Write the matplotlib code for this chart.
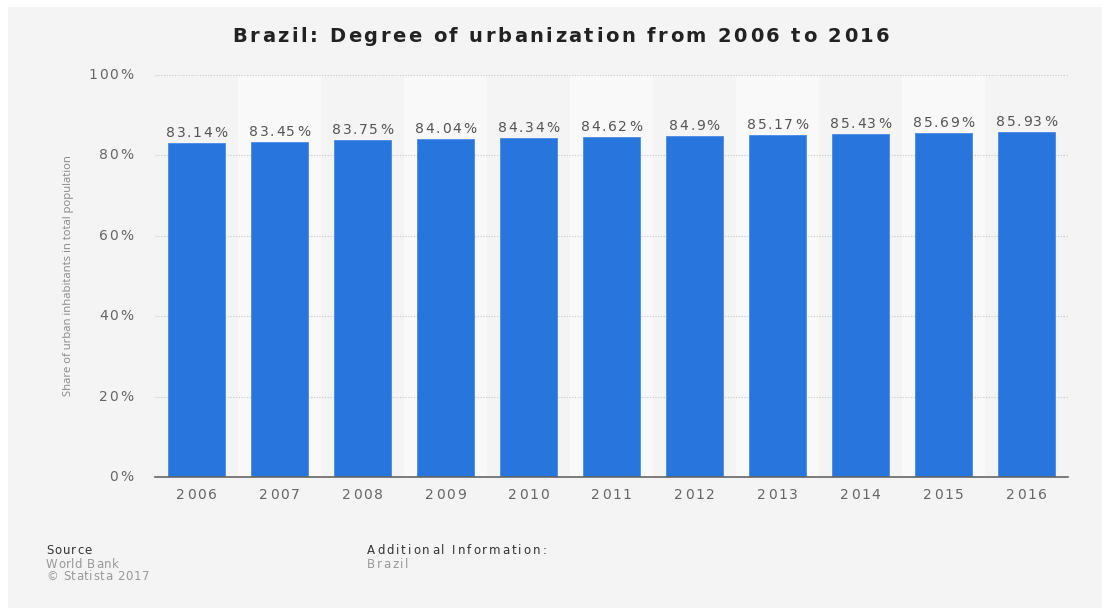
import matplotlib
matplotlib.use("Agg")
import matplotlib.pyplot as plt
from matplotlib.patches import Rectangle
from matplotlib.ticker import FixedLocator, NullFormatter
from matplotlib.transforms import ScaledTranslation, blended_transform_factory
from matplotlib.font_manager import FontProperties
from matplotlib.textpath import TextToPath

years = ["2006", "2007", "2008", "2009", "2010", "2011", "2012", "2013", "2014", "2015", "2016"]
values = [83.14, 83.45, 83.75, 84.04, 84.34, 84.62, 84.9, 85.17, 85.43, 85.69, 85.93]
value_labels = ["83.14%", "83.45%", "83.75%", "84.04%", "84.34%", "84.62%", "84.9%", "85.17%", "85.43%", "85.69%", "85.93%"]
yticks = [0, 20, 40, 60, 80, 100]
ytick_labels = ["0%", "20%", "40%", "60%", "80%", "100%"]

W, H = 1102, 608
DPI = 100
fig = plt.figure(figsize=(W / DPI, H / DPI), dpi=DPI, facecolor="white")
fig.patches.append(Rectangle((8 / W, 0), 1, 1 - 7 / H, transform=fig.transFigure,
                             facecolor="#f4f4f4", edgecolor="none", zorder=-10))

_t2p = TextToPath()


def _width_px(s, prop):
    if not s:
        return 0.0
    w, h, d = _t2p.get_text_width_height_descent(s, prop, ismath=False)
    return w * DPI / 72.0


def tracked_text(x, y, s, transform, tracking=1.5, ha="left", dx=0.0, dy=0.0,
                 size=10, weight="normal", color="#555555", family="DejaVu Sans", zorder=5):
    prop = FontProperties(family=family, size=size, weight=weight)
    total = _width_px(s, prop) + tracking * (len(s) - 1)
    if ha == "center":
        start = -total / 2
    elif ha == "right":
        start = -total
    else:
        start = 0.0
    for i, ch in enumerate(s):
        if ch == " ":
            continue
        off = start + _width_px(s[:i], prop) + tracking * i + dx
        tr = transform + ScaledTranslation(off / DPI, dy / DPI, fig.dpi_scale_trans)
        fig.text(x, y, ch, transform=tr, ha="left", va="baseline", fontproperties=prop,
                 color=color, zorder=zorder)


ax = fig.add_axes([155 / W, 1 - 477 / H, (1068 - 155) / W, (477 - 75) / H])
ax.set_facecolor("none")
ax.set_zorder(1)
x = list(range(len(years)))
ax.set_xlim(-0.5, len(years) - 0.5)
ax.set_ylim(0, 100)

for i in x:
    if i % 2 == 1:
        ax.axvspan(i - 0.5, i + 0.5, ymin=0, ymax=1, color="#f9f9f9", zorder=0, lw=0)

ax.yaxis.set_major_locator(FixedLocator(yticks))
ax.grid(axis="y", color="#c8c8c8", linestyle=(0, (1, 1.5)), linewidth=0.8, zorder=1)
ax.grid(axis="x", visible=False)
ax.set_axisbelow(True)

bars = ax.bar(x, values, width=0.69, color="#2775dd", edgecolor="#4a8ae6", linewidth=0.6, zorder=3)

ax.set_xticks(x)
ax.xaxis.set_major_formatter(NullFormatter())
ax.yaxis.set_major_formatter(NullFormatter())
ax.tick_params(axis="both", length=0)
for s in ["top", "right", "left"]:
    ax.spines[s].set_visible(False)
ax.spines["bottom"].set_color("#666666")
ax.spines["bottom"].set_linewidth(1.2)
ax.spines["bottom"].set_zorder(5)

# value labels
for xi, v, lab in zip(x, values, value_labels):
    tracked_text(xi, v, lab, ax.transData, tracking=1.6, ha="center", dy=6,
                 size=10, color="#555555")

# x tick labels
xtr = blended_transform_factory(ax.transData, ax.transAxes)
for xi, lab in zip(x, years):
    tracked_text(xi, 0, lab, xtr, tracking=1.6, ha="center", dy=-22, size=10, color="#666666")

# y tick labels
ytr = blended_transform_factory(ax.transAxes, ax.transData)
for v, lab in zip(yticks, ytick_labels):
    tracked_text(0, v, lab, ytr, tracking=1.5, ha="right", dx=-22, dy=-4, size=10, color="#666666")

fig.text(68 / W, 1 - 276 / H, "Share of urban inhabitants in total population", rotation=90,
         ha="center", va="center", fontsize=8.1, color="#888888", family="Open Sans")

tracked_text(561 / W, 1 - 42 / H, "Brazil: Degree of urbanization from 2006 to 2016", fig.transFigure,
             tracking=2.5, ha="center", size=14, weight="bold", color="#222222")

tracked_text(46 / W, 1 - 554 / H, "Source", fig.transFigure, tracking=1.0, size=8.5, color="#333333")
tracked_text(46 / W, 1 - 567.5 / H, "World Bank", fig.transFigure, tracking=0.6, size=8.5, color="#999999")
tracked_text(46 / W, 1 - 580.5 / H, "© Statista 2017", fig.transFigure, tracking=0.6, size=8.5, color="#999999")
tracked_text(367 / W, 1 - 554 / H, "Additional Information:", fig.transFigure, tracking=2.0, size=8.5, color="#333333")
tracked_text(367 / W, 1 - 567.5 / H, "Brazil", fig.transFigure, tracking=1.7, size=8.5, color="#999999")

fig.savefig("out.png", dpi=DPI, facecolor="white")
